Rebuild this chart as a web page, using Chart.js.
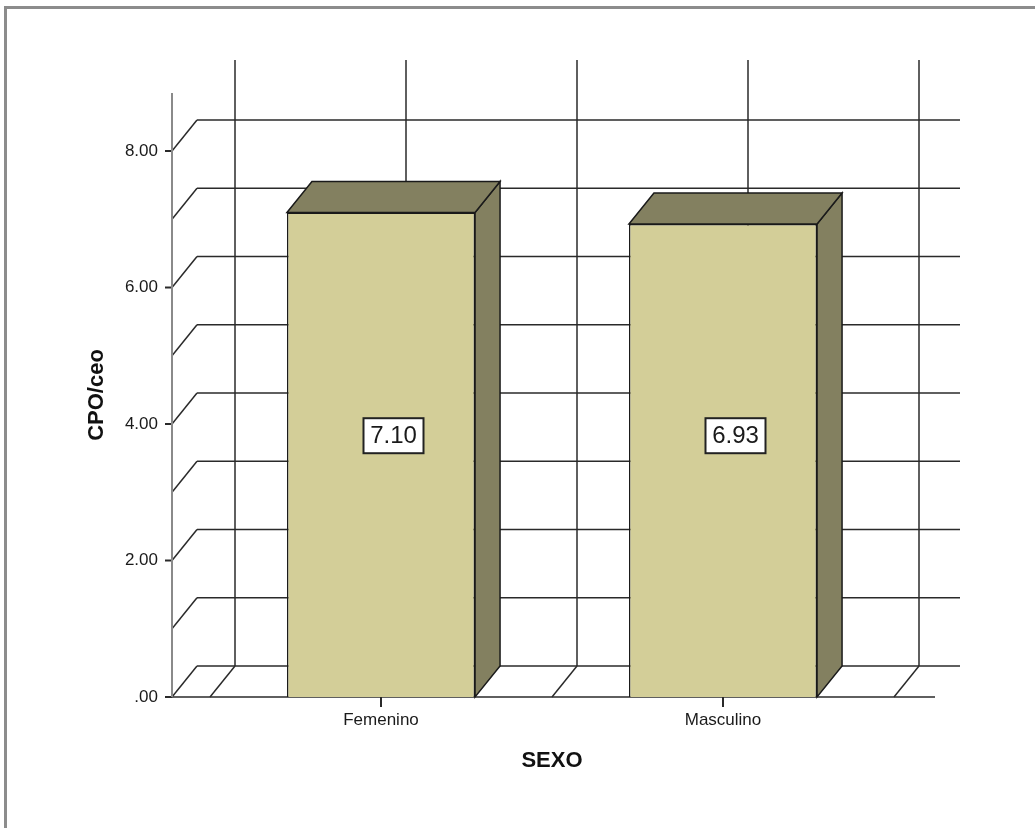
<!DOCTYPE html>
<html>
<head>
<meta charset="utf-8">
<script src="https://cdn.jsdelivr.net/npm/chart.js@4.4.0/dist/chart.umd.min.js"></script>
<style>
  body { margin: 0; background: #fff; overflow: hidden; }
  #marco { position: absolute; left: 4px; top: 6px; width: 1100px; height: 900px;
           border-top: 3px solid #8c8c8c; border-left: 3px solid #8c8c8c; }
  #myChartSexo { position: absolute; left: 0; top: 0; }
</style>
</head>
<body>
<div id="marco"></div>
<canvas id="myChartSexo" width="1035" height="828"></canvas>
<script>
// datos del grafico
var categorias = ['Femenino', 'Masculino'];
var valoresCPO = [7.10, 6.93];
var ticksY = [0, 2, 4, 6, 8];
var lineasFondo = [0, 1, 2, 3, 4, 5, 6, 7, 8];

// desplazamiento de profundidad 3D
var DX = 25;
var DY = -31;
var colorFrente = '#d3ce98';
var colorLado = '#838060';
var colorLinea = '#2a2a2a';

function linea(ctx, x1, y1, x2, y2) {
    ctx.beginPath();
    ctx.moveTo(x1, y1);
    ctx.lineTo(x2, y2);
    ctx.stroke();
}

// pared de fondo, piso y eje Y
var fondo3D = {
    id: 'fondo3D',
    beforeDatasetsDraw: function(chart) {
        var ctx = chart.ctx;
        var xs = chart.scales.x;
        var ys = chart.scales.y;
        var ejeX = xs.left - 38;
        var finX = xs.right + 41;
        var base = ys.getPixelForValue(0);
        ctx.save();
        ctx.strokeStyle = colorLinea;
        ctx.lineWidth = 1.5;
        lineasFondo.forEach(function(v) {
            var py = ys.getPixelForValue(v);
            linea(ctx, ejeX, py, ejeX + DX, py + DY);
            linea(ctx, ejeX + DX, py + DY, finX + DX, py + DY);
        });
        // lineas verticales en bordes y centros de categoria
        var mitad = xs.width / categorias.length / 2;
        var posiciones = [];
        categorias.forEach(function(c, i) {
            var cx = xs.getPixelForValue(i);
            if (i === 0) posiciones.push(cx - mitad);
            posiciones.push(cx);
            posiciones.push(cx + mitad);
        });
        posiciones.forEach(function(px) {
            linea(ctx, px + DX, ys.top + DY - 2, px + DX, base + DY);
            linea(ctx, px, base, px + DX, base + DY);
        });
        linea(ctx, ejeX, base, finX, base);
        // marcas del eje Y
        ctx.lineWidth = 2;
        ticksY.forEach(function(v) {
            var py = ys.getPixelForValue(v);
            linea(ctx, ejeX - 7, py, ejeX, py);
        });
        ctx.strokeStyle = '#8a8a8a';
        linea(ctx, ejeX, ys.top, ejeX, base);
        ctx.restore();
    },
    afterDatasetsDraw: function(chart) {
        var ctx = chart.ctx;
        var ys = chart.scales.y;
        var meta = chart.getDatasetMeta(0);
        // las etiquetas quedan todas a la misma altura
        var yEtiqueta = ys.getPixelForValue(Math.max.apply(null, valoresCPO) / 2) + DY / 2 - 4;
        ctx.save();
        ctx.lineWidth = 1.5;
        ctx.strokeStyle = '#1a1a1a';
        meta.data.forEach(function(bar, i) {
            var izq = bar.x - bar.width / 2;
            var der = bar.x + bar.width / 2;
            var top = bar.y;
            var base = bar.base;
            ctx.fillStyle = colorLado;
            // cara lateral
            ctx.beginPath();
            ctx.moveTo(der, top);
            ctx.lineTo(der + DX, top + DY);
            ctx.lineTo(der + DX, base + DY);
            ctx.lineTo(der, base);
            ctx.closePath();
            ctx.fill();
            ctx.stroke();
            // cara superior
            ctx.beginPath();
            ctx.moveTo(izq, top);
            ctx.lineTo(izq + DX, top + DY);
            ctx.lineTo(der + DX, top + DY);
            ctx.lineTo(der, top);
            ctx.closePath();
            ctx.fill();
            ctx.stroke();
            // etiqueta del valor
            var cx = bar.x + DX / 2;
            var cy = yEtiqueta;
            ctx.fillStyle = '#fff';
            ctx.fillRect(cx - 30, cy - 17, 60, 35);
            ctx.lineWidth = 2;
            ctx.strokeStyle = '#222';
            ctx.strokeRect(cx - 30, cy - 17, 60, 35);
            ctx.fillStyle = '#1a1a1a';
            ctx.font = '24px "Liberation Sans", Arial, sans-serif';
            ctx.textAlign = 'center';
            ctx.textBaseline = 'middle';
            ctx.fillText(valoresCPO[i].toFixed(2), cx, cy + 1);
            ctx.lineWidth = 1.5;
            ctx.strokeStyle = '#1a1a1a';
        });
        ctx.restore();
    }
};

var ctxSexo = document.getElementById('myChartSexo');
var myChartSexo = new Chart(ctxSexo, {
    type: 'bar',
    data: {
        labels: categorias,
        datasets: [{
            label: 'CPO/ceo',
            data: valoresCPO,
            backgroundColor: colorFrente,
            borderColor: '#1a1a1a',
            borderWidth: 1.5,
            categoryPercentage: 1,
            barPercentage: 0.55
        }]
    },
    options: {
        responsive: false,
        animation: false,
        layout: { padding: { left: 80, right: 141, top: 93, bottom: 50 } },
        plugins: { legend: { display: false }, tooltip: { enabled: false } },
        scales: {
            x: {
                offset: true,
                border: { display: false },
                grid: { display: true, drawOnChartArea: false, drawTicks: true, tickLength: 10, offset: false, color: colorLinea, lineWidth: 2 },
                ticks: { color: '#1a1a1a', padding: 3, font: { family: '"Liberation Sans", Arial', size: 17 } },
                title: { display: true, text: 'SEXO', color: '#111', font: { family: '"Liberation Sans", Arial', size: 22, weight: 'bold' } },
                afterFit: function(scale) { scale.height = 81; }
            },
            y: {
                min: 0,
                max: 8.85,
                border: { display: false },
                grid: { display: false, drawTicks: false },
                ticks: {
                    stepSize: 2,
                    includeBounds: false,
                    padding: 52,
                    color: '#1a1a1a',
                    font: { family: '"Liberation Sans", Arial', size: 17 },
                    callback: function(v) { return v === 0 ? '.00' : v.toFixed(2); }
                },
                title: { display: true, text: 'CPO/ceo', color: '#111', font: { family: '"Liberation Sans", Arial', size: 22, weight: 'bold' } },
                afterFit: function(scale) { scale.width = 130; }
            }
        }
    },
    plugins: [fondo3D]
});
</script>
</body>
</html>
